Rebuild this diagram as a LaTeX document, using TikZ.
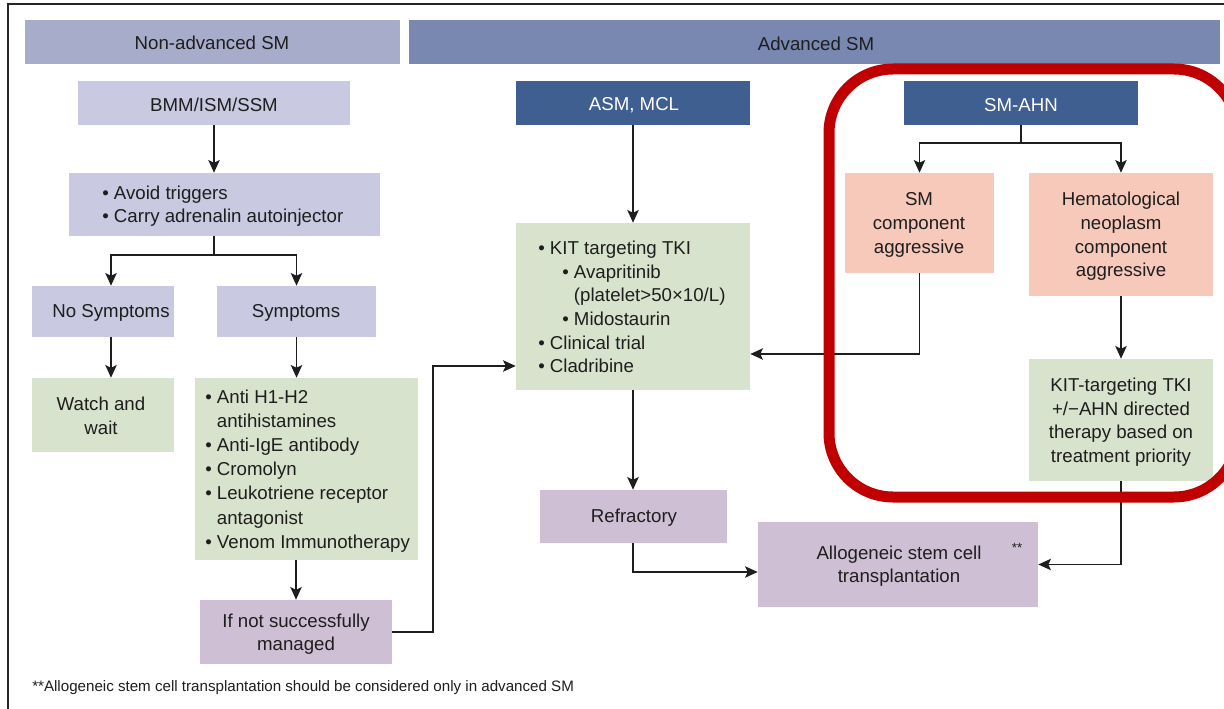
\documentclass[tikz,border=0pt]{standalone}
\usepackage{fontspec}
\setmainfont{Liberation Sans}
\usetikzlibrary{arrows.meta,calc}
\definecolor{hdrL}{RGB}{168,172,203}
\definecolor{hdrR}{RGB}{120,136,177}
\definecolor{lav}{RGB}{201,201,225}
\definecolor{dblue}{RGB}{64,95,145}
\definecolor{grn}{RGB}{215,227,204}
\definecolor{pnk}{RGB}{247,201,187}
\definecolor{prp}{RGB}{207,191,213}
\definecolor{redc}{RGB}{192,0,0}
\definecolor{ink}{RGB}{30,30,30}
\begin{document}
\begin{tikzpicture}[x=0.75pt,y=-0.75pt,
  box/.style={rectangle, inner sep=0pt, draw=none},
  txt/.style={inner sep=0pt, align=center, text=ink, yshift=-1.5pt, font=\fontsize{14}{17.7}\selectfont},
  ltxt/.style={inner sep=0pt, align=left, anchor=west, text=ink, font=\fontsize{14}{17.7}\selectfont},
  wtxt/.style={txt, text=white},
  arr/.style={draw=ink, line width=1.3pt, -{Stealth[length=9.5pt,width=8.5pt,inset=2pt]}},
  ln/.style={draw=ink, line width=1.3pt}]
\useasboundingbox (0,0) rectangle (1224,709);
\clip (0,0) rectangle (1224,709);
\fill[white] (0,0) rectangle (1224,709);
\draw[line width=1.1pt, black!85] (8,720) -- (8,4) -- (1240,4);

% headers
\node[box, fill=hdrL, minimum width=281.25pt, minimum height=33pt] (hdrL) at (212.5,42) {};
\node[txt, yshift=0.8pt] (hdrLT) at (212,42) {Non-advanced SM};
\node[box, fill=hdrR, minimum width=608.25pt, minimum height=33pt] (hdrR) at (814.5,42) {};
\node[txt] (hdrRT) at (816,42) {Advanced SM};

% non-advanced column
\node[box, fill=lav, minimum width=204pt, minimum height=33pt] (bmm) at (214,103) {};
\node[txt] (bmmT) at (214,103) {BMM/ISM/SSM};
\node[box, fill=lav, minimum width=233.25pt, minimum height=47.25pt] (avoid) at (224.5,204.5) {};
\node[ltxt] (avoidT) at (102,206) {• Avoid triggers\\• Carry adrenalin autoinjector};
\node[box, fill=lav, minimum width=106.5pt, minimum height=38.25pt] (nosym) at (103,311.5) {};
\node[txt] (nosymT) at (111,311) {No Symptoms};
\node[box, fill=lav, minimum width=119.25pt, minimum height=38.25pt] (sym) at (296.5,311.5) {};
\node[txt] (symT) at (296,311) {Symptoms};
\node[box, fill=grn, minimum width=106.5pt, minimum height=55.5pt] (watch) at (103,415) {};
\node[txt] (watchT) at (101,414) {Watch and\\wait};
\node[box, fill=grn, minimum width=167.25pt, minimum height=136.5pt] (anti) at (306.5,469) {};
\node[ltxt, font=\fontsize{14}{18.1}\selectfont] (antiT) at (205,471) {• Anti H1-H2\\\hphantom{• }antihistamines\\• Anti-IgE antibody\\• Cromolyn\\• Leukotriene receptor\\\hphantom{• }antagonist\\• Venom Immunotherapy};
\node[box, fill=prp, minimum width=144pt, minimum height=48pt] (ifnot) at (296,632) {};
\node[txt] (ifnotT) at (296,632) {If not successfully\\managed};

% ASM, MCL column
\node[box, fill=dblue, minimum width=175.5pt, minimum height=33pt] (asm) at (633,103) {};
\node[wtxt] (asmT) at (634,103) {ASM, MCL};
\node[box, fill=grn, minimum width=175.5pt, minimum height=125.25pt] (kit) at (633,306.5) {};
\node[ltxt] (kitT) at (538,307) {• KIT targeting TKI\\\hspace*{18pt}• Avapritinib\\\hspace*{18pt}\hphantom{• }(platelet>50×10/L)\\\hspace*{18pt}• Midostaurin\\• Clinical trial\\• Cladribine};
\node[box, fill=prp, minimum width=140.25pt, minimum height=39.75pt] (refr) at (633.5,516.5) {};
\node[txt] (refrT) at (634,516) {Refractory};
\node[box, fill=prp, minimum width=210pt, minimum height=63.75pt] (allo) at (898,564.5) {};
\node[txt] (alloT) at (899,564) {Allogeneic stem cell\\transplantation};
\node[txt, font=\fontsize{10}{12}\selectfont] (starT) at (1017,546) {**};

% SM-AHN column
\node[box, fill=dblue, minimum width=175.5pt, minimum height=33pt] (smahn) at (1021,103) {};
\node[wtxt] (smahnT) at (1021,103) {SM-AHN};
\node[box, fill=pnk, minimum width=111.75pt, minimum height=75pt] (smc) at (919.5,223) {};
\node[txt] (smcT) at (919,223) {SM\\component\\aggressive};
\node[box, fill=pnk, minimum width=138pt, minimum height=92.25pt] (hem) at (1121,234.5) {};
\node[txt] (hemT) at (1121,234.5) {Hematological\\neoplasm\\component\\aggressive};
\node[box, fill=grn, minimum width=138pt, minimum height=91.5pt] (kit2) at (1121,420) {};
\node[txt] (kit2T) at (1121,420) {KIT-targeting TKI\\+/−AHN directed\\therapy based on\\treatment priority};

% footnote
\node[ltxt, font=\fontsize{11.35}{13}\selectfont] (foot) at (32,688) {**Allogeneic stem cell transplantation should be considered only in advanced SM};

% connectors
\draw[arr] (bmm.south) -- (bmm.south |- avoid.north);
\draw[ln] (bmm.south |- avoid.south) -- ++(0,19) coordinate (sp1);
\draw[arr] (sp1) -| (nosymT |- nosym.north);
\draw[arr] (sp1) -| (sym.north);
\draw[arr] (nosymT |- nosym.south) -- (nosymT |- watch.north);
\draw[arr] (sym.south) -- (sym.south |- anti.north);
\draw[arr] (ifnot.north |- anti.south) -- (ifnot.north);
\draw[arr] (ifnot.east) -| (433,366) -- (kit.west |- 0,366);
\draw[arr] (asm.south) -- (kit.north);
\draw[arr] (kit.south) -- (kit.south |- refr.north);
\draw[arr] (kit.south |- refr.south) |- (allo.west |- 0,572);
\draw[ln] (smahn.south) -- ++(0,18) coordinate (sp2);
\draw[arr] (sp2) -| (smc.north);
\draw[arr] (sp2) -| (hem.north);
\draw[arr] (hem.south) -- (kit2.north);
\draw[arr] (smc.south) |- (kit.east |- 0,354);
\draw[arr] (kit2.south) |- (allo.east);

% highlight
\draw[redc, line width=8.25pt, rounded corners=48pt] (829,69) rectangle (1238,497);
\end{tikzpicture}
\end{document}
